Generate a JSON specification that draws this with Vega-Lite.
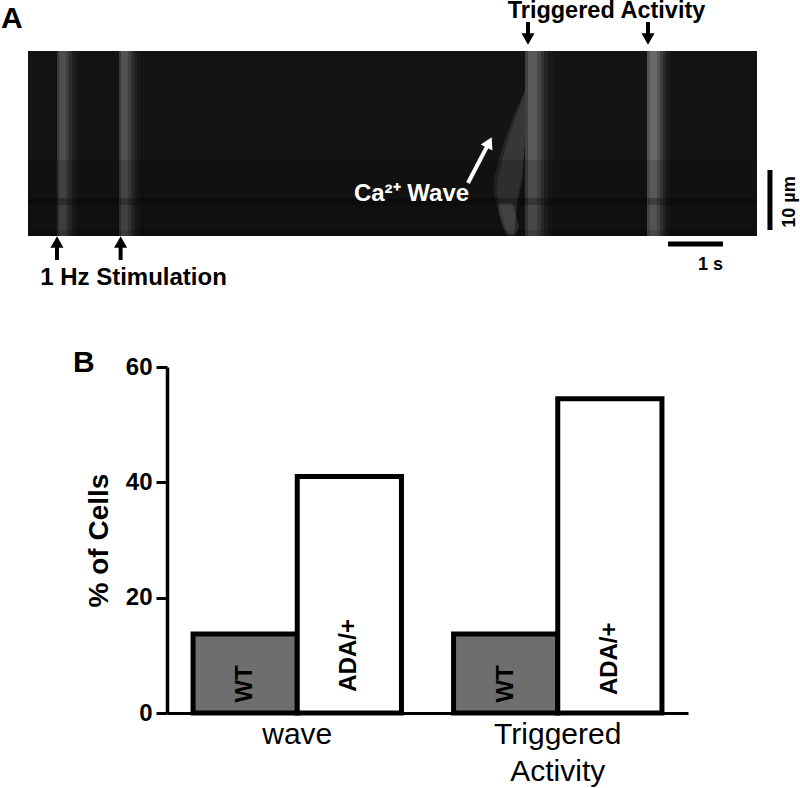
{
"$schema":"https://vega.github.io/schema/vega-lite/v6.json",
"width":800,"height":788,"padding":0,"autosize":{"type":"none"},"background":"white",
"config":{"view":{"stroke":null},"font":"Liberation Sans","text":{"font":"Liberation Sans","fontWeight":"bold"}},
"resolve":{"scale":{"x":"independent","y":"independent","color":"independent","opacity":"independent"},"axis":{"x":"independent","y":"independent"}},
"layer":[
{"layer":[
 {"data":{"values":[
  {"t":0,"t2":13.2545,"v":20},
  {"t":0.527,"t2":0.564,"v":55},{"t":0.564,"t2":0.691,"v":78},{"t":0.691,"t2":0.745,"v":62},{"t":0.745,"t2":0.8,"v":45},{"t":0.8,"t2":0.855,"v":32},{"t":0.855,"t2":0.927,"v":24},
  {"t":1.655,"t2":1.691,"v":58},{"t":1.691,"t2":1.818,"v":82},{"t":1.818,"t2":1.873,"v":65},{"t":1.873,"t2":1.927,"v":47},{"t":1.927,"t2":1.982,"v":33},{"t":1.982,"t2":2.055,"v":24},
  {"t":9.036,"t2":9.091,"v":65},{"t":9.091,"t2":9.255,"v":90},{"t":9.255,"t2":9.327,"v":72},{"t":9.327,"t2":9.382,"v":52},{"t":9.382,"t2":9.455,"v":36},{"t":9.455,"t2":9.545,"v":26},
  {"t":11.255,"t2":11.309,"v":85},{"t":11.309,"t2":11.436,"v":105},{"t":11.436,"t2":11.491,"v":85},{"t":11.491,"t2":11.545,"v":62},{"t":11.545,"t2":11.6,"v":42},{"t":11.6,"t2":11.673,"v":28}
  ]},
  "mark":{"type":"rect"},
  "encoding":{
   "x":{"field":"t","type":"quantitative","scale":{"domain":[0,13.2545],"range":[28,757],"nice":false,"zero":false},"axis":null},
   "x2":{"field":"t2"},
   "y":{"datum":0,"type":"quantitative","scale":{"domain":[0,30.833],"range":[236,51],"nice":false,"zero":false},"axis":null},
   "y2":{"datum":30.833},
   "color":{"field":"v","type":"quantitative","scale":{"domain":[0,255],"range":["#000000","#ffffff"],"interpolate":"rgb"},"legend":null}
  }},
 {"data":{"values":[
  {"d":24.17,"l":9.036,"r":9.036},{"d":23.5,"l":9.0,"r":9.036},{"d":20.67,"l":8.855,"r":9.036},{"d":18,"l":8.745,"r":9.036},{"d":15.17,"l":8.636,"r":9.036},{"d":12.33,"l":8.545,"r":9.02},{"d":9.67,"l":8.473,"r":9.0},{"d":7.33,"l":8.455,"r":8.945},{"d":5.17,"l":8.527,"r":8.9},{"d":2.33,"l":8.6,"r":8.87},{"d":0,"l":8.69,"r":8.855}
  ]},
  "mark":{"type":"area","orient":"horizontal","color":"white","opacity":0.08},
  "encoding":{"y":{"field":"d","type":"quantitative"},"x":{"field":"l","type":"quantitative"},"x2":{"field":"r"}}},
 {"data":{"values":[
  {"d":24.17,"l":9.036,"r":9.036},{"d":23.5,"l":9.02,"r":9.036},{"d":20.67,"l":8.9,"r":9.036},{"d":18,"l":8.8,"r":9.036},{"d":15.17,"l":8.7,"r":9.03},{"d":12.33,"l":8.61,"r":9.0},{"d":9.67,"l":8.54,"r":8.97},{"d":7.33,"l":8.52,"r":8.92},{"d":5.17,"l":8.58,"r":8.88},{"d":2.33,"l":8.65,"r":8.85},{"d":0,"l":8.74,"r":8.83}
  ]},
  "mark":{"type":"area","orient":"horizontal","color":"white","opacity":0.08},
  "encoding":{"y":{"field":"d","type":"quantitative"},"x":{"field":"l","type":"quantitative"},"x2":{"field":"r"}}},
 {"data":{"values":[
  {"d":5.5,"l":8.54,"r":8.8},{"d":3.5,"l":8.57,"r":8.87},{"d":1.5,"l":8.64,"r":8.93},{"d":0.3,"l":8.72,"r":8.86}
  ]},
  "mark":{"type":"area","orient":"horizontal","color":"white","opacity":0.14},
  "encoding":{"y":{"field":"d","type":"quantitative"},"x":{"field":"l","type":"quantitative"},"x2":{"field":"r"}}},
 {"data":{"values":[
  {"d":12.67,"d2":6.33,"o":0.15},{"d":6.33,"d2":5.17,"o":0.4},{"d":5.17,"d2":1,"o":0.2},{"d":1,"d2":0,"o":0.3}
  ]},
  "mark":{"type":"rect","color":"black"},
  "encoding":{"x":{"datum":0},"x2":{"datum":13.2545},"y":{"field":"d","type":"quantitative"},"y2":{"field":"d2"},"opacity":{"field":"o","type":"quantitative","scale":{"domain":[0,1],"range":[0,1]},"legend":null}}},
 {"data":{"values":[{"t":9.091,"d":35.67,"d2":32.8},{"t":11.273,"d":35.67,"d2":32.8},{"t":0.527,"d":-4,"d2":-1},{"t":1.684,"d":-4,"d2":-1}]},
  "mark":{"type":"rule","color":"black","strokeWidth":4},
  "encoding":{"x":{"field":"t","type":"quantitative"},"y":{"field":"d","type":"quantitative"},"y2":{"field":"d2"}}},
 {"data":{"values":[{"t":13.49,"d":1,"d2":11}]},
  "mark":{"type":"rule","color":"black","strokeWidth":5},
  "encoding":{"x":{"field":"t","type":"quantitative"},"y":{"field":"d","type":"quantitative"},"y2":{"field":"d2"}}},
 {"data":{"values":[{"t":11.636,"t2":12.636,"d":-1.33}]},
  "mark":{"type":"rule","color":"black","strokeWidth":5},
  "encoding":{"x":{"field":"t","type":"quantitative"},"x2":{"field":"t2"},"y":{"field":"d","type":"quantitative"}}},
 {"data":{"values":[{"t":9.091,"d":32.83},{"t":11.273,"d":32.83}]},
  "mark":{"type":"point","shape":"triangle-down","filled":true,"color":"black","opacity":1,"size":170},
  "encoding":{"x":{"field":"t","type":"quantitative"},"y":{"field":"d","type":"quantitative"}}},
 {"data":{"values":[{"t":0.527,"d":-1},{"t":1.684,"d":-1}]},
  "mark":{"type":"point","shape":"triangle-up","filled":true,"color":"black","opacity":1,"size":170},
  "encoding":{"x":{"field":"t","type":"quantitative"},"y":{"field":"d","type":"quantitative"}}},
 {"data":{"values":[{"t":8.0,"t2":8.385,"d":8.83,"d2":15.6}]},
  "mark":{"type":"rule","color":"white","strokeWidth":4},
  "encoding":{"x":{"field":"t","type":"quantitative"},"x2":{"field":"t2"},"y":{"field":"d","type":"quantitative"},"y2":{"field":"d2"}}},
 {"data":{"values":[{"t":8.385,"d":15.6}]},
  "mark":{"type":"point","shape":"triangle-up","filled":true,"color":"white","opacity":1,"size":170,"angle":27},
  "encoding":{"x":{"field":"t","type":"quantitative"},"y":{"field":"d","type":"quantitative"}}},
 {"data":{"values":[{"t":-0.49,"d":34.67,"s":"A"}]},
  "mark":{"type":"text","fontSize":30,"align":"left","baseline":"alphabetic"},
  "encoding":{"x":{"field":"t","type":"quantitative"},"y":{"field":"d","type":"quantitative"},"text":{"field":"s"}}},
 {"data":{"values":[{"t":0.818,"d":-22.67,"s":"B"}]},
  "mark":{"type":"text","fontSize":30,"align":"left","baseline":"alphabetic"},
  "encoding":{"x":{"field":"t","type":"quantitative"},"y":{"field":"d","type":"quantitative"},"text":{"field":"s"}}},
 {"data":{"values":[{"t":10.518,"d":36.33,"s":"Triggered Activity"}]},
  "mark":{"type":"text","fontSize":23.5,"align":"center","baseline":"alphabetic"},
  "encoding":{"x":{"field":"t","type":"quantitative"},"y":{"field":"d","type":"quantitative"},"text":{"field":"s"}}},
 {"data":{"values":[{"t":1.918,"d":-8.17,"s":"1 Hz Stimulation"}]},
  "mark":{"type":"text","fontSize":24,"align":"center","baseline":"alphabetic"},
  "encoding":{"x":{"field":"t","type":"quantitative"},"y":{"field":"d","type":"quantitative"},"text":{"field":"s"}}},
 {"data":{"values":[{"t":6.973,"d":5.83,"s":"Ca²⁺ Wave"}]},
  "mark":{"type":"text","fontSize":24,"align":"center","baseline":"alphabetic","color":"white"},
  "encoding":{"x":{"field":"t","type":"quantitative"},"y":{"field":"d","type":"quantitative"},"text":{"field":"s"}}},
 {"data":{"values":[{"t":12.636,"d":-5.67,"s":"1 s"}]},
  "mark":{"type":"text","fontSize":18,"align":"right","baseline":"alphabetic"},
  "encoding":{"x":{"field":"t","type":"quantitative"},"y":{"field":"d","type":"quantitative"},"text":{"field":"s"}}},
 {"data":{"values":[{"t":13.945,"d":5.67,"s":"10 µm"}]},
  "mark":{"type":"text","fontSize":18,"align":"center","baseline":"alphabetic","angle":270},
  "encoding":{"x":{"field":"t","type":"quantitative"},"y":{"field":"d","type":"quantitative"},"text":{"field":"s"}}}
]},
{"data":{"values":[
 {"group":"wave","strain":"WT","pct":13.7},
 {"group":"wave","strain":"ADA/+","pct":41},
 {"group":"Triggered Activity","strain":"WT","pct":13.7},
 {"group":"Triggered Activity","strain":"ADA/+","pct":54.5}
 ]},
 "layer":[
 {"mark":{"type":"bar","stroke":"black","strokeWidth":5,"strokeJoin":"miter"},
  "encoding":{
   "x":{"field":"group","type":"nominal","title":null,"sort":["wave","Triggered Activity"],
    "scale":{"domain":["wave","Triggered Activity"],"range":[167,688],"paddingInner":0,"paddingOuter":0},
    "axis":{"orient":"bottom","offset":-75,"domainWidth":3,"domainColor":"black","ticks":false,"labelAngle":0,"labelFontSize":30,"labelFontWeight":"normal","labelColor":"black","labelFont":"Liberation Sans","labelPadding":6,"labelLineHeight":37,"labelBaseline":"top","labelLimit":0,"grid":false,
     "labelExpr":"datum.value == 'Triggered Activity' ? ['Triggered','Activity'] : datum.label"}},
   "xOffset":{"field":"strain","type":"nominal","sort":["WT","ADA/+"],"scale":{"domain":["WT","ADA/+"],"paddingInner":0,"paddingOuter":0.25}},
   "y":{"field":"pct","type":"quantitative","title":"% of Cells",
    "scale":{"domain":[0,60],"range":[713,367],"nice":false},
    "axis":{"orient":"left","offset":-167,"values":[0,20,40,60],"grid":false,"domainWidth":3.5,"domainColor":"black","tickWidth":3,"tickColor":"black","tickSize":11,"labelFontSize":24,"labelFontWeight":"bold","labelColor":"black","labelFont":"Liberation Sans","labelPadding":4,"titleFontSize":28,"titleFontWeight":"bold","titleColor":"black","titleFont":"Liberation Sans","titlePadding":12}},
   "color":{"field":"strain","type":"nominal","scale":{"domain":["WT","ADA/+"],"range":["#6e6e6e","#ffffff"]},"legend":null}
  }},
 {"transform":[{"filter":"datum.strain == 'WT'"}],
  "mark":{"type":"text","angle":270,"align":"left","baseline":"middle","fontSize":24,"color":"black"},
  "encoding":{"x":{"field":"group","type":"nominal"},"xOffset":{"field":"strain","type":"nominal"},"y":{"datum":1.8},"text":{"field":"strain"}}},
 {"transform":[{"filter":"datum.strain != 'WT' && datum.group == 'wave'"}],
  "mark":{"type":"text","angle":270,"align":"left","baseline":"middle","fontSize":24,"color":"black"},
  "encoding":{"x":{"field":"group","type":"nominal"},"xOffset":{"field":"strain","type":"nominal"},"y":{"datum":3.7},"text":{"field":"strain"}}},
 {"transform":[{"filter":"datum.strain != 'WT' && datum.group != 'wave'"}],
  "mark":{"type":"text","angle":270,"align":"left","baseline":"middle","fontSize":24,"color":"black"},
  "encoding":{"x":{"field":"group","type":"nominal"},"xOffset":{"field":"strain","type":"nominal"},"y":{"datum":3.1},"text":{"field":"strain"}}}
 ]}
]}
